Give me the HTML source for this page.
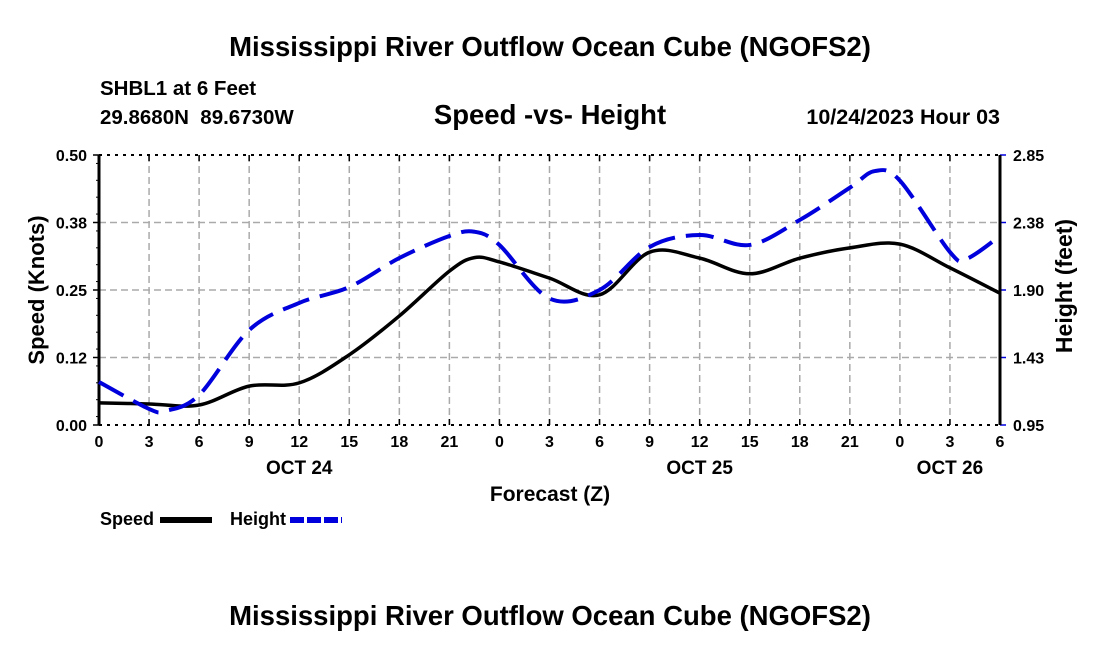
<!DOCTYPE html>
<html><head><meta charset="utf-8"><style>
body{margin:0;background:#fff;width:1100px;height:650px;overflow:hidden}
text{font-family:"Liberation Sans",sans-serif;font-weight:bold;fill:#000;white-space:pre}
</style></head><body>
<svg width="1100" height="650" viewBox="0 0 1100 650">
<text x="550" y="56" font-size="27.5" text-anchor="middle">Mississippi River Outflow Ocean Cube (NGOFS2)</text>
<text x="100" y="95" font-size="20.5">SHBL1 at 6 Feet</text>
<text x="100" y="124" font-size="20.5">29.8680N  89.6730W</text>
<text x="550" y="124" font-size="27.5" text-anchor="middle">Speed -vs- Height</text>
<text x="1000" y="124" font-size="21.5" text-anchor="end">10/24/2023 Hour 03</text>
<g id="grid"></g>
<g id="axes"></g>
<g id="series"></g>
<text x="550" y="501" font-size="21" text-anchor="middle">Forecast (Z)</text>
<text transform="translate(44,290) rotate(-90)" font-size="22" text-anchor="middle">Speed (Knots)</text>
<text transform="translate(1072,286) rotate(-90)" font-size="23" text-anchor="middle">Height (feet)</text>
<g>
<text x="100" y="525" font-size="18">Speed</text>
<line x1="160" y1="520" x2="212" y2="520" stroke="#000" stroke-width="6"/>
<text x="230" y="525" font-size="18">Height</text>
<line x1="290" y1="520" x2="342" y2="520" stroke="#0000dd" stroke-width="6" stroke-dasharray="14,3"/>
</g>
<text x="550" y="625" font-size="27.5" text-anchor="middle">Mississippi River Outflow Ocean Cube (NGOFS2)</text>
</svg>
<script>
const hours=[0,3,6,9,12,15,18,21,24,27,30,33,36,39,42,45,48,51,54];
const tickLabels=["0","3","6","9","12","15","18","21","0","3","6","9","12","15","18","21","0","3","6"];
const dayLabels=["OCT 24","OCT 25","OCT 26"];
const dayHours=[12,36,51];
const speedTicks=["0.00","0.12","0.25","0.38","0.50"];
const heightTicks=["0.95","1.43","1.90","2.38","2.85"];
const speedHours=[0,3,6,9,12,15,18,21,22.5,24,27,30,33,36,39,42,45,48,51,54];
const speedVals=[0.041,0.039,0.037,0.072,0.078,0.130,0.202,0.285,0.31,0.302,0.272,0.241,0.320,0.309,0.280,0.309,0.328,0.335,0.291,0.244];
const heightHours=[0,3,4,6,9,12,15,18,21,22.5,24,27,30,33,36,39,42,45,46.5,48,51,52,54];
const heightVals=[1.253,1.063,1.05,1.161,1.618,1.809,1.921,2.125,2.280,2.31,2.217,1.840,1.900,2.203,2.287,2.217,2.393,2.62,2.737,2.67,2.167,2.12,2.280];
const X0=99,X1=1000,Y0=425,Y1=155;
const xs=h=>X0+(h-0)/54*(X1-X0);
const ySp=v=>Y0-v/0.5*(Y0-Y1);
const yHt=v=>Y0-(v-0.95)/1.9*(Y0-Y1);
const NS="http://www.w3.org/2000/svg";
function mk(tag,attrs,parent){const e=document.createElementNS(NS,tag);for(const k in attrs)e.setAttribute(k,attrs[k]);parent.appendChild(e);return e;}
const grid=document.getElementById('grid'),axes=document.getElementById('axes'),series=document.getElementById('series');
hours.forEach((h,i)=>{
  const x=xs(h);
  if(i>0&&i<hours.length-1){const l=mk('line',{x1:x,y1:Y1,x2:x,y2:Y0,stroke:'#aaa','stroke-width':1.5,'stroke-dasharray':'7,4'},grid);
  
  }
  const t=mk('text',{x:x,y:Y0+22,'font-size':16,'text-anchor':'middle'},axes);t.textContent=tickLabels[i];
  
  
  mk('line',{x1:x,y1:Y0,x2:x,y2:Y0-6,stroke:'#000','stroke-width':1.5},axes);
  mk('line',{x1:x,y1:Y1,x2:x,y2:Y1+6,stroke:'#000','stroke-width':1.5},axes);
});
dayLabels.forEach((d,i)=>{const t=mk('text',{x:xs(dayHours[i]),y:Y0+49,'font-size':19,'text-anchor':'middle'},axes);t.textContent=d;
  
  });
speedTicks.forEach((s,i)=>{
  const yy=Y0-i*(Y0-Y1)/4;
  if(i>0&&i<4){const l=mk('line',{x1:X0,y1:yy,x2:X1,y2:yy,stroke:'#aaa','stroke-width':1.5,'stroke-dasharray':'7,4'},grid);
  
  }
  const t=mk('text',{x:X0-12,y:yy+6,'font-size':16,'text-anchor':'end'},axes);t.textContent=s;
  
  
  mk('line',{x1:X0-6,y1:yy,x2:X0,y2:yy,stroke:'#000','stroke-width':1.5},axes);
  const t2=mk('text',{x:X1+13,y:yy+6,'font-size':16},axes);t2.textContent=heightTicks[i];
  
  
  mk('line',{x1:X1,y1:yy,x2:X1+6,y2:yy,stroke:'#0000dd','stroke-width':1.5},axes);
});
for(let j=0;j<16;j++){const yy=Y0-(j+0.5)*(Y0-Y1)/16;mk('line',{x1:X0-3,y1:yy,x2:X0,y2:yy,stroke:'#000'},axes);}
mk('line',{x1:X0,y1:Y1,x2:X1,y2:Y1,stroke:'#000','stroke-width':2,'stroke-dasharray':'3,5'},axes);
mk('line',{x1:X0,y1:Y0,x2:X1,y2:Y0,stroke:'#000','stroke-width':2,'stroke-dasharray':'3,5'},axes);
mk('line',{x1:X0,y1:Y1,x2:X0,y2:Y0,stroke:'#000','stroke-width':3},axes);
mk('line',{x1:X1,y1:Y1,x2:X1,y2:Y0,stroke:'#000','stroke-width':3},axes);
function smooth(pts){let d=`M${pts[0][0]},${pts[0][1]}`;for(let i=0;i<pts.length-1;i++){const p0=pts[Math.max(0,i-1)],p1=pts[i],p2=pts[i+1],p3=pts[Math.min(pts.length-1,i+2)];
 const c1=[p1[0]+(p2[0]-p0[0])/6,p1[1]+(p2[1]-p0[1])/6],c2=[p2[0]-(p3[0]-p1[0])/6,p2[1]-(p3[1]-p1[1])/6];d+=` C${c1[0]},${c1[1]} ${c2[0]},${c2[1]} ${p2[0]},${p2[1]}`;}return d;}
const sp=mk('path',{d:smooth(speedHours.map((h,i)=>[xs(h),ySp(speedVals[i])])),fill:'none',stroke:'#000','stroke-width':3.5},series);


const hp=mk('path',{d:smooth(heightHours.map((h,i)=>[xs(h),yHt(heightVals[i])])),fill:'none',stroke:'#0000dd','stroke-width':4,'stroke-dasharray':'28,11'},series);


</script>
</body></html>
